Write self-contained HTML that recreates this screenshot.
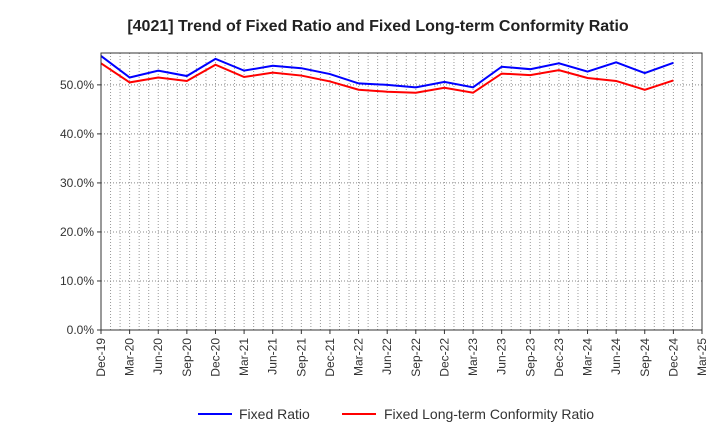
<!DOCTYPE html>
<html><head><meta charset="utf-8"><style>
body{margin:0;background:#fff;font-family:"Liberation Sans",sans-serif;}
svg text{font-family:"Liberation Sans",sans-serif;}
</style></head><body>
<svg id="c" width="720" height="440">
<text x="378" y="31" text-anchor="middle" font-size="16" font-weight="bold" fill="#222">[4021]  Trend of Fixed Ratio and Fixed Long-term Conformity Ratio</text>
<g id="grid"></g><g id="lines"></g>
<rect x="101" y="53" width="601" height="277" fill="none" stroke="#333"/>
<g>
<line x1="198" y1="414" x2="232" y2="414" stroke="#00f" stroke-width="2"/>
<text x="239" y="419" font-size="14" fill="#333">Fixed Ratio</text>
<line x1="342" y1="414" x2="376" y2="414" stroke="#f00" stroke-width="2"/>
<text x="384" y="419" font-size="14" fill="#333">Fixed Long-term Conformity Ratio</text>
</g>
</svg>
<script>
const categories=["Dec-19","Mar-20","Jun-20","Sep-20","Dec-20","Mar-21","Jun-21","Sep-21","Dec-21","Mar-22","Jun-22","Sep-22","Dec-22","Mar-23","Jun-23","Sep-23","Dec-23","Mar-24","Jun-24","Sep-24","Dec-24","Mar-25"];
const fixedRatio=[55.9,51.5,52.9,51.8,55.3,52.9,53.9,53.4,52.2,50.3,50.0,49.5,50.6,49.5,53.7,53.2,54.4,52.7,54.6,52.4,54.5];
const conformityRatio=[54.4,50.5,51.5,50.8,54.1,51.6,52.5,51.9,50.7,49.0,48.6,48.4,49.4,48.4,52.3,52.0,53.0,51.4,50.8,49.0,50.9];
const yTicks=[0,10,20,30,40,50];
const yTickLabels=["0.0%","10.0%","20.0%","30.0%","40.0%","50.0%"];
const X0=101,X1=702,Y0=330,yMax=56.5,Ytop=53;
const xs=i=>X0+i*(X1-X0)/(categories.length-1);
const ys=v=>Y0-v*(Y0-Ytop)/yMax;
const NS="http://www.w3.org/2000/svg";
const grid=document.getElementById('grid'),lines=document.getElementById('lines');
function mk(t,a,p){const e=document.createElementNS(NS,t);for(const k in a)e.setAttribute(k,a[k]);p.appendChild(e);return e;}
for(let m=1;m<(categories.length-1)*3;m++){
 const x=xs(m/3);
 const g=mk('line',{x1:x,x2:x,y1:Ytop,y2:Y0,stroke:'#999','stroke-dasharray':'1,2'},grid);
 
 
}
categories.forEach((c,i)=>{
 const x=xs(i);
 mk('line',{x1:x,x2:x,y1:Y0,y2:Y0+4,stroke:'#333'},grid);
 const t=mk('text',{x:x+4,y:Y0+8,'font-size':12,fill:'#333','text-anchor':'end',transform:`rotate(-90 ${x+4} ${Y0+8})`},grid);
 t.textContent=c;
 
 
});
yTicks.forEach((v,i)=>{
 const y=ys(v);
 if(v>0){const g=mk('line',{x1:X0,x2:X1,y1:y,y2:y,stroke:'#888','stroke-dasharray':'1,2'},grid);
 
 }
 mk('line',{x1:X0-4,x2:X0,y1:y,y2:y,stroke:'#333'},grid);
 const t=mk('text',{x:X0-7,y:y+4,'font-size':12,fill:'#333','text-anchor':'end'},grid);
 t.textContent=yTickLabels[i];
 
 
});
function line(data,color,name){
 const p=mk('polyline',{points:data.map((v,i)=>xs(i)+','+ys(v)).join(' '),fill:'none',stroke:color,'stroke-width':2},lines);
 
 
}
line(conformityRatio,'#f00','conformity-ratio-line');
line(fixedRatio,'#00f','fixed-ratio-line');
</script>
</body></html>
